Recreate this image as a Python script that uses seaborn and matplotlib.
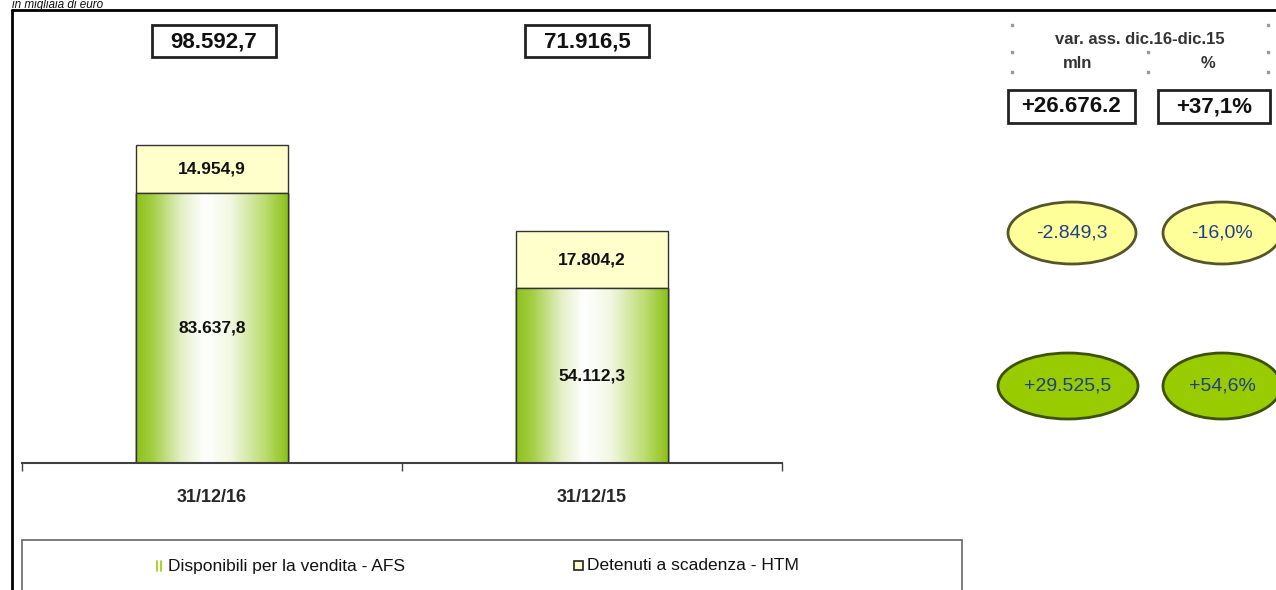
import numpy as np
import matplotlib
matplotlib.use("Agg")
import matplotlib.pyplot as plt
import seaborn as sns
from matplotlib.colors import LinearSegmentedColormap
from matplotlib.patches import Rectangle, Ellipse
from matplotlib.lines import Line2D

sns.set_style("white")
plt.rcParams["font.family"] = ["Liberation Sans", "DejaVu Sans"]

# data (in migliaia di euro)
categories = ["31/12/16", "31/12/15"]
afs = [83637.8, 54112.3]   # Disponibili per la vendita - AFS
htm = [14954.9, 17804.2]   # Detenuti a scadenza - HTM
totals = [a + h for a, h in zip(afs, htm)]
series_names = ["Disponibili per la vendita - AFS", "Detenuti a scadenza - HTM"]
var_total_labels = ["+26.676.2", "+37,1%"]


def fmt_it(v, sign=False):
    s = f"{v:+,.1f}" if sign else f"{v:,.1f}"
    return s.replace(",", "X").replace(".", ",").replace("X", ".")


var_htm = htm[0] - htm[1]
var_afs = afs[0] - afs[1]
pct_htm = var_htm / htm[1] * 100
pct_afs = var_afs / afs[1] * 100

W, H = 1276, 590
fig = plt.figure(figsize=(W / 100, H / 100), dpi=100)

# main bar chart axes, placed in pixel terms
ax_l, ax_r, ax_b, ax_t = 22, 782, 463, 10
ax = fig.add_axes([ax_l / W, (H - ax_b) / H, (ax_r - ax_l) / W, (ax_b - ax_t) / H])
ax.patch.set_alpha(0)

yellow = "#ffffcc"
edge = "#333333"
sns.barplot(x=categories, y=totals, color=yellow, width=0.4, edgecolor=edge,
            linewidth=1.0, saturation=1, ax=ax)
sns.barplot(x=categories, y=afs, color="#99cc00", width=0.4, edgecolor=edge,
            linewidth=1.0, saturation=1, ax=ax)

ymax = totals[0] * (ax_b - ax_t) / (ax_b - 145)
ax.set_xlim(-0.5, 1.5)
ax.set_ylim(0, ymax)

# green -> white -> green gradient on the AFS bars
grad = LinearSegmentedColormap.from_list(
    "g", [(0, "#8cc21a"), (0.1, "#a2cd40"), (0.3, "#e4f0c8"), (0.45, "#ffffff"),
          (0.62, "#f2f8e4"), (0.85, "#bcdc70"), (1, "#8cc21a")])
for p in ax.patches[2:]:
    x0, w, h = p.get_x(), p.get_width(), p.get_height()
    ax.imshow(np.linspace(0, 1, 256).reshape(1, -1), cmap=grad, aspect="auto",
              extent=[x0, x0 + w, 0, h], zorder=p.get_zorder() + 0.1)
    ax.add_patch(Rectangle((x0, 0), w, h, fill=False, edgecolor=edge, lw=1.0,
                           zorder=p.get_zorder() + 0.2))
ax.set_xlim(-0.5, 1.5)
ax.set_ylim(0, ymax)

# segment labels
for i in range(len(categories)):
    ax.text(i, afs[i] / 2, fmt_it(afs[i]), ha="center", va="center",
            fontsize=12.5, fontweight="bold", color="#111111", zorder=5)
    ax.text(i, afs[i] + htm[i] / 2, fmt_it(htm[i]), ha="center", va="center",
            fontsize=12.5, fontweight="bold", color="#111111", zorder=5)

# axis styling
for s in ["left", "right", "top"]:
    ax.spines[s].set_visible(False)
ax.spines["bottom"].set_color("#404040")
ax.spines["bottom"].set_linewidth(1.5)
ax.set_yticks([])
ax.set_xticks([0, 1])
ax.set_xticklabels(categories, fontsize=13, fontweight="bold")
ax.set_xticks([-0.5, 0.5, 1.5], minor=True)
ax.tick_params(axis="x", which="major", length=0, pad=19)
ax.tick_params(axis="x", which="minor", length=6, width=1, color="#404040",
               direction="out", bottom=True)
ax.set_xlabel("")
ax.set_ylabel("")

# overlay in pixel coordinates for frame, boxes and ellipses
ov = fig.add_axes([0, 0, 1, 1], zorder=3)
ov.set_xlim(0, W)
ov.set_ylim(H, 0)
ov.set_axis_off()
ov.patch.set_alpha(0)

ov.text(12, 8, "in migliaia di euro", fontsize=8.5, style="italic", ha="left",
        va="baseline", color="#111111")
ov.add_line(Line2D([12, W], [10, 10], color="black", lw=2))
ov.add_line(Line2D([12, 12], [10, H], color="black", lw=2))

# totals above bars
for cx, t in zip([214, 587], totals):
    ov.add_patch(Rectangle((cx - 62, 25), 124, 32, facecolor="white",
                           edgecolor="#222222", lw=2))
    ov.text(cx, 42, fmt_it(t), ha="center", va="center", fontsize=16,
            fontweight="bold", color="#111111")

# variation header
ov.text(1140, 40, "var. ass. dic.16-dic.15", ha="center", va="center",
        fontsize=12, fontweight="bold", color="#333333")
ov.text(1078, 63, "mln", ha="center", va="center", fontsize=12,
        fontweight="bold", color="#333333")
ov.text(1208, 63, "%", ha="center", va="center", fontsize=12,
        fontweight="bold", color="#333333")
ov.scatter([1012, 1268, 1012, 1148, 1268, 1012, 1148, 1268],
           [25, 25, 52, 52, 52, 72, 72, 72], s=3, marker="s", color="#999999")

for (x0, x1), lab in zip([(1008, 1135), (1158, 1270)], var_total_labels):
    ov.add_patch(Rectangle((x0, 90), x1 - x0, 33, facecolor="white",
                           edgecolor="#222222", lw=2))
    ov.text((x0 + x1) / 2, 107, lab, ha="center", va="center", fontsize=16,
            fontweight="bold", color="#111111")

# ellipses with segment variations
blue = "#1f3f8c"
ell = [
    (1072, 233, 128, 62, "#ffff99", "#55552a", fmt_it(var_htm, sign=True)),
    (1222, 233, 118, 62, "#ffff99", "#55552a", fmt_it(pct_htm, sign=True).replace("+", "") + "%"),
    (1068, 386, 140, 66, "#99cc00", "#3d5200", fmt_it(var_afs, sign=True)),
    (1222, 386, 118, 66, "#99cc00", "#3d5200", fmt_it(pct_afs, sign=True) + "%"),
]
for cx, cy, w, h, fc, ec, lab in ell:
    ov.add_patch(Ellipse((cx, cy), w, h, facecolor=fc, edgecolor=ec, lw=2))
    ov.text(cx, cy, lab, ha="center", va="center", fontsize=14, color=blue)

# legend box
ov.add_patch(Rectangle((22, 540), 940, 70, facecolor="white",
                       edgecolor="#666666", lw=1.2))
ov.add_line(Line2D([157, 157], [561, 571], color="#99cc00", lw=1.2))
ov.add_line(Line2D([161, 161], [561, 571], color="#99cc00", lw=1.2))
ov.text(168, 566, series_names[0], ha="left", va="center", fontsize=12.5,
        color="#111111")
ov.add_patch(Rectangle((574, 561), 9, 9, facecolor=yellow, edgecolor="#222222",
                       lw=1.2))
ov.text(587, 566, series_names[1], ha="left", va="center", fontsize=12.5,
        color="#111111")

fig.savefig("out.png", dpi=100)
